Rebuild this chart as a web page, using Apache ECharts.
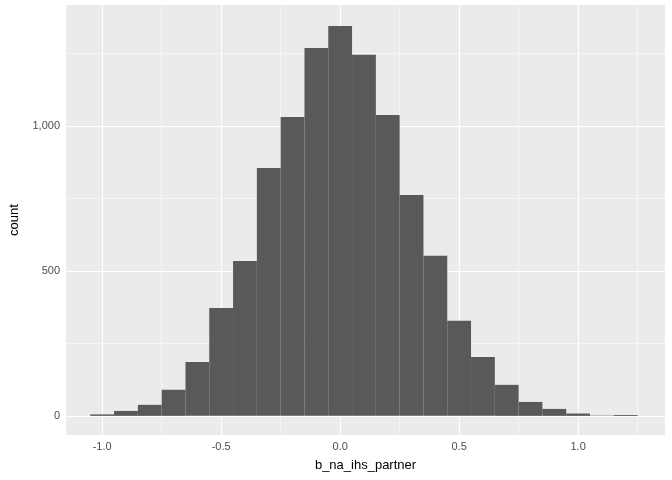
<!DOCTYPE html>
<html>
<head>
<meta charset="utf-8">
<script src="https://cdn.jsdelivr.net/npm/echarts@6/dist/echarts.min.js"></script>
<style>html,body{margin:0;padding:0;background:#fff}#main{width:672px;height:480px}</style>
</head>
<body>
<div id="main"></div>
<script>
var binCenters = [-1.0,-0.9,-0.8,-0.7,-0.6,-0.5,-0.4,-0.3,-0.2,-0.1,0.0,0.1,0.2,0.3,0.4,0.5,0.6,0.7,0.8,0.9,1.0,1.1,1.2];
var counts = [5,17,38,90,186,372,534,855,1031,1269,1345,1245,1038,762,552,328,203,107,48,24,8,1,3];
var binWidth = 0.1;
var xMajor = [-1.0,-0.5,0.0,0.5,1.0];
var xMinor = [-0.75,-0.25,0.25,0.75,1.25];
var yMajor = [0,500,1000];
var yMinor = [250,750,1250];

var chart = echarts.init(document.getElementById('main'));
var data = binCenters.map(function (c, i) { return [c, counts[i]]; });

function gridLines(vals, axis, w) {
  return vals.map(function (v) {
    var o = {}; o[axis] = v;
    o.lineStyle = {color: '#fff', width: w, type: 'solid'};
    return o;
  });
}

var option = {
  backgroundColor: '#fff',
  animation: false,
  grid: {left: 62, right: 7, top: 5, bottom: 45, show: true, backgroundColor: '#EBEBEB', borderWidth: 0},
  xAxis: {
    type: 'value', min: -1.152, max: 1.365,
    name: 'b_na_ihs_partner', nameLocation: 'middle', nameGap: 24,
    nameTextStyle: {color: '#000', fontSize: 13, fontFamily: 'Liberation Sans'},
    axisLine: {show: false}, splitLine: {show: false},
    axisTick: {show: true, length: 3, customValues: xMajor, lineStyle: {color: '#333'}},
    axisLabel: {customValues: xMajor, color: '#4D4D4D', fontSize: 11, fontFamily: 'Liberation Sans', margin: 6,
      formatter: function (v) { return v.toFixed(1); }}
  },
  yAxis: {
    type: 'value', min: -66, max: 1417,
    name: 'count', nameLocation: 'middle', nameGap: 45, nameRotate: 90,
    nameTextStyle: {color: '#000', fontSize: 13, fontFamily: 'Liberation Sans'},
    axisLine: {show: false}, splitLine: {show: false},
    axisTick: {show: true, length: 3, customValues: yMajor, lineStyle: {color: '#333'}},
    axisLabel: {customValues: yMajor, color: '#4D4D4D', fontSize: 11, fontFamily: 'Liberation Sans', margin: 6}
  },
  series: [{
    type: 'custom',
    data: data,
    renderItem: function (params, api) {
      var x = api.value(0), y = api.value(1);
      var p0 = api.coord([x - binWidth / 2, y]);
      var p1 = api.coord([x + binWidth / 2, 0]);
      return {type: 'rect', shape: {x: p0[0], y: p0[1], width: p1[0] - p0[0], height: p1[1] - p0[1]},
        style: {fill: '#595959'}};
    },
    z: 3,
    markLine: {
      silent: true, symbol: 'none', label: {show: false}, z: 1,
      data: gridLines(xMinor, 'xAxis', 0.5).concat(gridLines(yMinor, 'yAxis', 0.5))
        .concat(gridLines(xMajor, 'xAxis', 1.1)).concat(gridLines(yMajor, 'yAxis', 1.1))
    }
  }]
};
chart.setOption(option);
</script>
</body>
</html>
